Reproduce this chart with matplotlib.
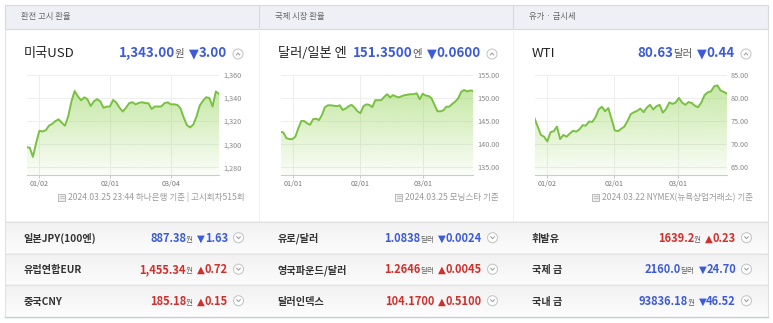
import numpy as np
import matplotlib
matplotlib.use('Agg')
import matplotlib.pyplot as plt
from matplotlib.patches import Rectangle, Circle
from matplotlib.colors import to_rgb

plt.rcParams['font.family'] = ['Noto Sans CJK KR', 'DejaVu Sans']

########### DATA ###########
panel_titles = ['환전 고시 환율', '국제 시장 환율', '유가 · 금시세']
main_names   = ['미국USD', '달러/일본 엔', 'WTI']
main_values  = ['1,343.00', '151.3500', '80.63']
main_units   = ['원', '엔', '달러']
main_changes = ['3.00', '0.0600', '0.44']
footnotes    = ['2024.03.25 23:44 하나은행 기준 | 고시회차515회',
                '2024.03.25 모닝스타 기준',
                '2024.03.22 NYMEX(뉴욕상업거래소) 기준']

usd_series = [1297.3, 1297, 1289, 1301, 1311.5, 1311, 1312, 1316, 1317.5, 1320,
              1321.5, 1318.5, 1316, 1324, 1337, 1346, 1341.5, 1338, 1340.5, 1339,
              1333, 1337, 1339, 1337, 1331.5, 1332.5, 1332.6, 1338.3, 1336, 1331.5,
              1328.3, 1331.5, 1335.5, 1336.3, 1334.5, 1335.7, 1336.3, 1335.6, 1335.4, 1330.5,
              1332.6, 1332.6, 1332.6, 1335.5, 1336.2, 1334.5, 1334.5, 1334, 1331, 1323,
              1316.5, 1314.5, 1317, 1324, 1333.5, 1337.5, 1340.6, 1340, 1332.6, 1345.6,
              1343.5]
usd_ticks = [4, 26, 45]
usd_tick_labels = ['01/02', '02/01', '03/04']
usd_yticks = [1280, 1300, 1320, 1340, 1360]
usd_ylabels = ['1,280', '1,300', '1,320', '1,340', '1,360']

jpy_series = [142.7, 142.5, 141.3, 141.1, 141.1, 141.6, 143.4, 145.0, 145.0, 144.5,
              144.2, 145.4, 145.5, 145.2, 146.3, 148.0, 148.4, 148.4, 148.3, 148.2,
              148.4, 147.4, 147.7, 148.2, 148.5, 147.9, 147.1, 146.7, 148.2, 148.6,
              148.5, 148.0, 149.5, 149.5, 149.5, 150.2, 150.8, 150.1, 150.6, 150.3,
              150.1, 150.4, 150.6, 150.7, 150.8, 150.8, 151.0, 149.7, 150.9, 150.5,
              150.4, 149.9, 148.5, 147.1, 147.1, 147.3, 148.1, 148.1, 148.7, 149.2,
              149.9, 151.3, 151.7, 151.4, 151.6, 151.5]
jpy_ticks = [4.3, 26.8, 48.1]
jpy_tick_labels = ['01/01', '02/01', '03/01']
jpy_yticks = [135, 140, 145, 150, 155]
jpy_ylabels = ['135.00', '140.00', '145.00', '150.00', '155.00']

wti_series = [75.6, 73.8, 72.0, 71.6, 70.6, 72.6, 72.8, 73.8, 71.1, 72.0,
              71.6, 72.3, 72.9, 72.7, 73.2, 74.1, 74.0, 74.9, 74.8, 75.8,
              77.5, 78.1, 77.1, 77.8, 75.5, 73.0, 72.8, 73.3, 73.8, 75.0,
              76.5, 76.9, 77.2, 77.7, 76.9, 77.9, 78.5, 77.5, 78.2, 78.5,
              76.8, 77.6, 79.0, 78.7, 79.0, 80.0, 79.0, 78.5, 79.1, 78.9,
              78.3, 78.0, 79.0, 80.6, 81.2, 81.4, 82.5, 82.7, 81.6, 81.3,
              80.9]
wti_ticks = [3.8, 24.8, 44.7]
wti_tick_labels = ['01/02', '02/01', '03/01']
wti_yticks = [65, 70, 75, 80, 85]
wti_ylabels = ['65.00', '70.00', '75.00', '80.00', '85.00']

row_names   = [['일본JPY(100엔)', '유럽연합EUR', '중국CNY'],
               ['유로/달러', '영국파운드/달러', '달러인덱스'],
               ['휘발유', '국제 금', '국내 금']]
row_values  = [['887.38', '1,455.34', '185.18'],
               ['1.0838', '1.2646', '104.1700'],
               ['1639.2', '2160.0', '93836.18']]
row_units   = [['원', '원', '원'], ['달러', '달러', ''], ['원', '달러', '원']]
row_changes = [['1.63', '0.72', '0.15'], ['0.0024', '0.0045', '0.5100'], ['0.23', '24.70', '46.52']]
row_up      = [[False, True, True], [False, True, True], [True, False, False]]

########### STYLE ###########
W, H = 773, 323
BLUE = '#3d5bd9'
RED = '#d12f2c'
LINE = '#79c043'
panel_left = [5, 259, 513]

fig = plt.figure(figsize=(W / 100, H / 100), dpi=100)
bg = fig.add_axes([0, 0, 1, 1])
bg.set_xlim(0, W)
bg.set_ylim(H, 0)
bg.axis('off')
renderer = fig.canvas.get_renderer()


def right_parts(x_right, y, parts):
    # parts: (text, color, size, weight, gap_before[, family]), drawn right to left
    x = x_right
    for p in reversed(parts):
        text, color, size, weight, gap = p[:5]
        kw = {'family': p[5]} if len(p) > 5 else {}
        t = bg.text(x, y, text, color=color, fontsize=size, fontweight=weight,
                    ha='right', va='baseline', **kw)
        x -= t.get_window_extent(renderer).width + gap
    return x


def circle_btn(cx, cy, up):
    bg.add_patch(Circle((cx, cy), 5, fc='white', ec='#c8c8c8', lw=0.8, zorder=5))
    d = -1 if up else 1
    bg.plot([cx - 1.8, cx, cx + 1.8], [cy - d, cy + d, cy - d], color='#999999', lw=0.7, zorder=6)


# header bar
bg.add_patch(Rectangle((5, 4.5), 763, 24.5, fc='#eef0f5', ec='#d6d9e1', lw=0.8))
for i, pl in enumerate(panel_left):
    bg.text(pl + 16, 17, panel_titles[i], fontsize=6, color='#666666', va='center')
for xd in [259, 513]:
    bg.plot([xd, xd], [4.5, 29], color='#d6d9e1', lw=0.8)
    bg.plot([xd, xd], [29, 222], color='#f1f1f1', lw=0.8)
bg.plot([5, 5], [29, 316], color='#e0e2e8', lw=0.8)
bg.plot([768, 768], [29, 316], color='#e0e2e8', lw=0.8)

# table rows with light gradient
row_tops = [222, 253.5, 285]
row_h = 31.5
grad = np.linspace(0.945, 0.99, 50)[:, None] * np.ones((50, 2))
for rt in row_tops:
    bg.imshow(np.dstack([grad, grad, grad]), extent=[5, 768, rt + row_h, rt],
              aspect='auto', zorder=0)
    bg.plot([5, 768], [rt, rt], color='#e2e2e2', lw=0.8)
bg.plot([5, 768], [316.5, 316.5], color='#c6cad4', lw=1.0)
bg.set_xlim(0, W)
bg.set_ylim(H, 0)

# title rows
for i, pl in enumerate(panel_left):
    bg.text(pl + 18.5, 57, main_names[i], fontsize=9.5, color='#222222', va='baseline')
    right_parts(pl + 221.5, 57, [(main_values[i], BLUE, 9.6, 'bold', 0),
                                 (main_units[i], '#555555', 7.5, 'normal', 0),
                                 ('▼', BLUE, 9.2, 'normal', 4, 'DejaVu Sans'),
                                 (main_changes[i], BLUE, 9.6, 'bold', 0)])
    circle_btn(pl + 233, 54, True)
    xl = right_parts(pl + 240, 200, [(footnotes[i], '#9a9a9a', 6.2, 'normal', 0)])
    # little document icon
    bg.add_patch(Rectangle((xl - 10, 193.5), 7, 7, fc='#eeeeee', ec='#b0b0b0', lw=0.6))
    bg.plot([xl - 8.5, xl - 4.5], [196, 196], color='#b0b0b0', lw=0.5)
    bg.plot([xl - 8.5, xl - 4.5], [198, 198], color='#b0b0b0', lw=0.5)

# table rows text
for i, pl in enumerate(panel_left):
    for r in range(3):
        base = row_tops[r] + 19.7
        bg.text(pl + 18.5, base, row_names[i][r], fontsize=7.3, color='#333333',
                fontweight='bold', va='baseline')
        col = RED if row_up[i][r] else BLUE
        arrow = '▲' if row_up[i][r] else '▼'
        right_parts(pl + 223, base, [(row_values[i][r], col, 8, 'bold', 0),
                                     (row_units[i][r], '#666666', 5.5, 'normal', 0),
                                     (arrow, col, 7.3, 'normal', 4, 'DejaVu Sans'),
                                     (row_changes[i][r], col, 8, 'bold', 0)])
        circle_btn(pl + 233.5, row_tops[r] + 15.7, False)

########### CHARTS ###########
charts = [(usd_series, usd_ticks, usd_tick_labels, usd_yticks, usd_ylabels, 1273.3, 1360.3),
          (jpy_series, jpy_ticks, jpy_tick_labels, jpy_yticks, jpy_ylabels, 133.34, 155.05),
          (wti_series, wti_ticks, wti_tick_labels, wti_yticks, wti_ylabels, 63.34, 85.05)]
fill_rgb = to_rgb('#8fd24f')

for i, (series, ticks, tlabels, yticks, ylabels, lo, hi) in enumerate(charts):
    left = panel_left[i] + 21.5
    ax = fig.add_axes([left / W, 1 - 175 / H, 192.5 / W, 100.5 / H])
    x = np.arange(len(series))
    y = np.array(series)
    ax.plot(x, y, color=LINE, lw=1.4, zorder=4, solid_joinstyle='round')
    poly = ax.fill_between(x, y, lo, facecolor='none', edgecolor='none')
    g = np.zeros((100, 1, 4))
    g[:, :, :3] = fill_rgb
    g[:, 0, 3] = np.linspace(0.5, 0.04, 100)
    im = ax.imshow(g, aspect='auto', extent=[x[0], x[-1], lo, y.max()],
                   origin='upper', zorder=3, interpolation='bilinear')
    im.set_clip_path(poly.get_paths()[0], transform=ax.transData)
    ax.set_xlim(x[0], x[-1])
    ax.set_ylim(lo, hi)
    ax.set_xticks(ticks)
    ax.set_xticklabels(tlabels)
    ax.set_yticks(yticks)
    ax.set_yticklabels(ylabels)
    ax.yaxis.tick_right()
    ax.tick_params(axis='y', length=0, pad=2.8, labelsize=5.2, labelcolor='#888888')
    ax.tick_params(axis='x', length=2, pad=1.5, labelsize=5.2, labelcolor='#777777', color='#cccccc')
    ax.grid(True, color='#eeeeee', lw=0.7)
    ax.set_axisbelow(True)
    for s in ['top', 'left', 'right']:
        ax.spines[s].set_visible(False)
    ax.spines['bottom'].set_color('#cccccc')
    ax.spines['bottom'].set_linewidth(0.8)
    ax.patch.set_alpha(0)

fig.savefig('out.png', dpi=100)
